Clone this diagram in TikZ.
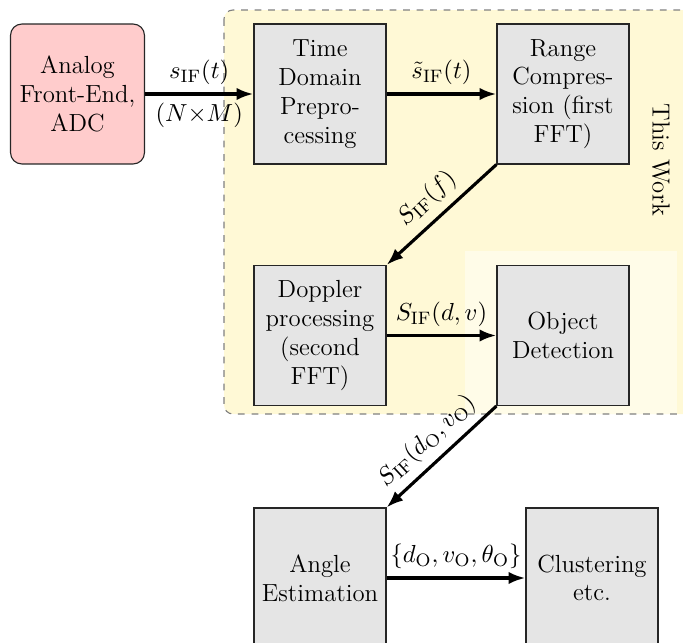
\documentclass[tikz,border=0pt]{standalone}
\usetikzlibrary{arrows.meta}
\definecolor{workbg}{RGB}{255,249,214}
\definecolor{workhl}{RGB}{255,252,232}
\definecolor{bordergray}{RGB}{128,128,128}
\tikzset{
  every node/.style={font=\fontsize{11}{12.8}\selectfont},
  block/.style={draw=black!85, line width=0.5pt, fill=black!10, minimum width=58.7pt, minimum height=62.2pt, align=center, inner sep=1pt},
  frontend/.style={block, fill=red!20, rounded corners=5pt, minimum width=59.5pt},
  flow/.style={line width=1.4pt, -{Latex[length=7.5pt,width=5.5pt]}},
}
\begin{document}
\begin{tikzpicture}[x=0.4444pt, y=-0.4444pt]
\clip (0,0) rectangle (683,643);
% this-work region
\fill[workbg, rounded corners=4pt] (224,10) rectangle (720,414);
\fill[workhl] (465,251) rectangle (677,414);
\draw[bordergray, dashed, line width=0.5pt, rounded corners=4pt] (224,10) rectangle (720,414);
\node[rotate=-90] (tw) at (661,160) {This Work};
% blocks
\node[frontend] (afe) at (77.5,94) {Analog\\Front-End,\\ADC};
\node[block] (tdp) at (320,94) {Time\\Domain\\Prepro-\\cessing};
\node[block] (rc) at (563,94) {Range\\Compres-\\sion (first\\FFT)};
\node[block] (dp) at (320,335.5) {Doppler\\processing\\(second\\FFT)};
\node[block] (od) at (563,335.5) {Object\\Detection};
\node[block] (ae) at (320,578) {Angle\\Estimation};
\node[block] (cl) at (592,578) {Clustering\\etc.};
% connectors
\draw[flow] (afe) -- node[above] {$s_{\mathrm{IF}}(t)$} node[below] {$(N{\times}M)$} (tdp);
\draw[flow] (tdp) -- node[above] {$\tilde{s}_{\mathrm{IF}}(t)$} (rc);
\draw[flow] (rc.south west) -- node[sloped, above] {$S_{\mathrm{IF}}(f)$} (dp.north east);
\draw[flow] (dp) -- node[above] {$S_{\mathrm{IF}}(d,v)$} (od);
\draw[flow] (od.south west) -- node[sloped, above] {$S_{\mathrm{IF}}(d_{\mathrm{O}},v_{\mathrm{O}})$} (ae.north east);
\draw[flow] (ae) -- node[above] {$\{d_{\mathrm{O}},v_{\mathrm{O}},\theta_{\mathrm{O}}\}$} (cl);
\end{tikzpicture}
\end{document}
